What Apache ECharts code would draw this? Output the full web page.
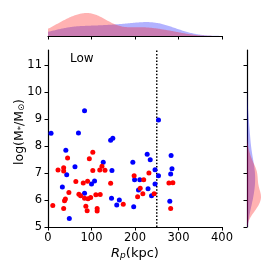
<!DOCTYPE html>
<html><head><meta charset="utf-8">
<script src="https://cdn.jsdelivr.net/npm/echarts@6/dist/echarts.min.js"></script>
<style>html,body{margin:0;padding:0;background:#fff}#c{width:274px;height:274px}</style>
</head><body><div id="c"></div>
<script>
// Red group: [Rp (kpc), log(M*/Msun)]
const redPoints = [
 [103,7.77],[45,7.55],[95,7.53],[23,7.11],[36,7.19],[36,7.07],[103,7.09],[119,7.11],[131,7.10],[124,7.25],
 [64,6.68],[81,6.63],[91,6.69],[48,6.28],[71,6.21],[75,6.16],[110,6.19],[120,6.20],[84,6.06],[92,6.05],
 [98,6.09],[40,6.04],[38,5.97],[11,5.80],[87,5.77],[36,5.68],[90,5.60],[113,5.68],[113,5.59],[232,7.00],
 [198,6.90],[220,6.75],[144,6.62],[212,6.43],[244,6.23],[218,6.23],[206,6.12],[173,5.84],[278,6.63],[287,6.64],
 [282,5.68]
];
// Blue group
const bluePoints = [
 [84,9.30],[7,8.47],[70,8.48],[41,7.84],[127,7.40],[62,7.23],[43,6.93],[107,6.70],[100,6.59],[33,6.48],
 [84,6.25],[49,5.31],[254,8.96],[144,8.21],[149,8.28],[228,7.69],[235,7.49],[195,7.40],[147,7.09],[246,7.12],
 [254,6.90],[199,6.75],[211,6.75],[246,6.59],[208,6.37],[230,6.42],[238,6.16],[146,6.06],[164,6.00],[158,5.81],
 [197,5.75],[283,7.65],[285,7.16],[282,6.96],[280,5.95]
];
const xTicks = [0,100,200,300,400];
const yTicks = [5,6,7,8,9,10,11];
const cutX = 250;
const panelLabel = 'Low';

const N = redPoints.length + bluePoints.length;
function kde(vals, grid){
  const n = vals.length;
  const m = vals.reduce((a,b)=>a+b,0)/n;
  const sd = Math.sqrt(vals.reduce((a,b)=>a+(b-m)*(b-m),0)/(n-1));
  const bw = sd*Math.pow(n,-0.2);
  return grid.map(g=>{
    let s=0; for(const v of vals){const z=(g-v)/bw; s+=Math.exp(-0.5*z*z);}
    return s/(n*bw*Math.sqrt(2*Math.PI))*(n/N);
  });
}
const gx=[]; for(let v=0; v<=400; v+=2) gx.push(v);
const gy=[]; for(let v=5; v<=11.55+1e-9; v+=0.05) gy.push(+v.toFixed(3));
const redDX = kde(redPoints.map(p=>p[0]), gx);
const blueDX = kde(bluePoints.map(p=>p[0]), gx);
const redDY = kde(redPoints.map(p=>p[1]), gy);
const blueDY = kde(bluePoints.map(p=>p[1]), gy);
const maxX = Math.max(...redDX, ...blueDX);
const maxY = Math.max(...redDY, ...blueDY);

const F = 'DejaVu Sans';
const chart = echarts.init(document.getElementById('c'), null, {renderer:'canvas'});

function poly(xi, yi, xs, ys, fill){
  return {type:'custom', xAxisIndex:xi, yAxisIndex:yi, data:[[xs[0], ys[0]]], silent:true,
    renderItem:(p,api)=>{
      const pts=xs.map((x,i)=>api.coord([x, ys[i]]));
      return {type:'polygon', shape:{points:pts}, style:{fill:fill}};
    }};
}
function topPoly(dens, fill){
  return poly(1,1,[gx[0]].concat(gx,[gx[gx.length-1]]),[0].concat(dens,[0]),fill);
}
function rightPoly(dens, fill){
  return poly(2,2,[0].concat(dens,[0]),[gy[0]].concat(gy,[gy[gy.length-1]]),fill);
}
const lineBlack = {show:true, lineStyle:{color:'#000', width:1.2}};
const tickStyle = {show:true, length:3.5, lineStyle:{color:'#000', width:1}};

chart.setOption({
  animation:false,
  grid:[
    {left:48, top:50, width:174, height:177},
    {left:48, top:8, width:174, height:28},
    {left:247, top:50, width:27, height:177}
  ],
  xAxis:[
    {gridIndex:0, type:'value', min:0, max:400, interval:100, axisLine:lineBlack, axisTick:tickStyle, splitLine:{show:false},
     axisLabel:{color:'#000', fontFamily:F, fontSize:11.5, margin:5}},
    {gridIndex:1, type:'value', min:0, max:400, interval:100, axisLine:lineBlack, axisTick:tickStyle, splitLine:{show:false}, axisLabel:{show:false}},
    {gridIndex:2, type:'value', min:0, max:maxY*27/14, axisLine:{show:false}, axisTick:{show:false}, axisLabel:{show:false}, splitLine:{show:false}}
  ],
  yAxis:[
    {gridIndex:0, type:'value', min:5, max:11.55, axisLine:lineBlack, splitLine:{show:false},
     axisTick:Object.assign({customValues:yTicks}, tickStyle),
     axisLabel:{customValues:yTicks, color:'#000', fontFamily:F, fontSize:11.5, margin:6}},
    {gridIndex:1, type:'value', min:0, max:maxX*28/23, show:false},
    {gridIndex:2, type:'value', min:5, max:11.55, axisLine:lineBlack, splitLine:{show:false},
     axisTick:Object.assign({customValues:yTicks}, tickStyle), axisLabel:{show:false}}
  ],
  series:[
    {type:'scatter', xAxisIndex:0, yAxisIndex:0, data:bluePoints, symbolSize:5, itemStyle:{color:'#0000ff', opacity:1}, z:3},
    {type:'scatter', xAxisIndex:0, yAxisIndex:0, data:redPoints, symbolSize:5, itemStyle:{color:'#ff0000', opacity:1}, z:3},
    {type:'line', xAxisIndex:0, yAxisIndex:0, data:[[cutX,5],[cutX,11.55]], symbol:'none',
     lineStyle:{color:'#000', width:1.5, type:[1.5,1.8]}, z:2},
    topPoly(blueDX,'rgba(0,0,255,0.3)'),
    topPoly(redDX,'rgba(255,0,0,0.3)'),
    rightPoly(blueDY,'rgba(0,0,255,0.3)'),
    rightPoly(redDY,'rgba(255,0,0,0.3)')
  ],
  graphic:[
    {type:'text', left:70, top:53, style:{text:panelLabel, fontFamily:F, fontSize:12, fill:'#000'}},
    {type:'text', x:135, y:252, style:{text:'{i|R}{s|p}{n|(kpc)}', align:'center', verticalAlign:'middle',
      rich:{i:{fontFamily:F, fontStyle:'italic', fontSize:13, fill:'#000', verticalAlign:'bottom', lineHeight:16},
            s:{fontFamily:F, fontStyle:'italic', fontSize:9, fill:'#000', verticalAlign:'bottom', lineHeight:12},
            n:{fontFamily:F, fontSize:13, fill:'#000', verticalAlign:'bottom', lineHeight:16}}}},
    {type:'text', x:18, y:132, rotation:Math.PI/2, style:{text:'{n|log(M}{s|*}{n|/M}{s|⊙}{n|)}', align:'center', verticalAlign:'middle',
      rich:{n:{fontFamily:F, fontSize:12.5, fill:'#000', verticalAlign:'bottom', lineHeight:16},
            s:{fontFamily:F, fontSize:8.5, fill:'#000', verticalAlign:'bottom', lineHeight:12}}}}
  ]
});
</script></body></html>
